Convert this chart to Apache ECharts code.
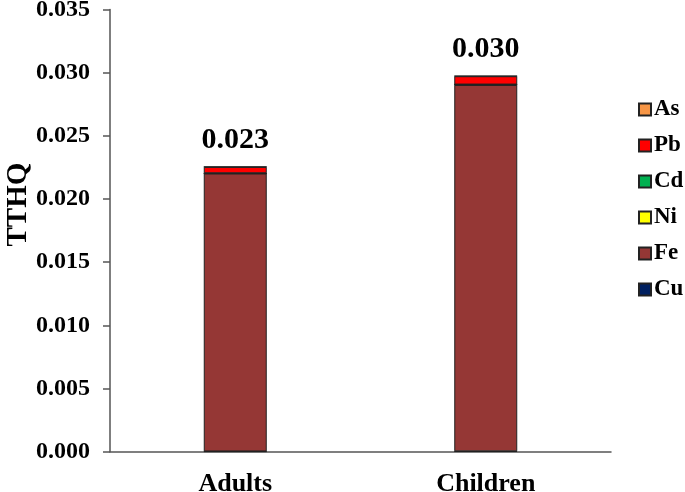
<!DOCTYPE html>
<html>
<head>
<meta charset="utf-8">
<script src="https://cdn.jsdelivr.net/npm/echarts@6/dist/echarts.min.js"></script>
<style>html,body{margin:0;padding:0;background:#fff}#c{width:685px;height:492px}</style>
</head>
<body>
<div id="c"></div>
<script>
var categories = ['Adults', 'Children'];
var Cu = [0.00002, 0.00003];
var Fe = [0.0220, 0.0290];
var Ni = [0.00001, 0.00002];
var Cd = [0.00001, 0.00001];
var Pb = [0.00050, 0.00066];
var As = [0.00001, 0.00002];
var totalLabels = ['0.023', '0.030'];
var yTicks = [0, 0.005, 0.010, 0.015, 0.020, 0.025, 0.030, 0.035];

var font = '"Liberation Serif", "Times New Roman", serif';
var stackOrder = [
  {name: 'Cu', data: Cu, color: '#002060'},
  {name: 'Fe', data: Fe, color: '#953735'},
  {name: 'Ni', data: Ni, color: '#FFFF00'},
  {name: 'Cd', data: Cd, color: '#00B050'},
  {name: 'Pb', data: Pb, color: '#FF0000'},
  {name: 'As', data: As, color: '#F79646'}
];
var series = stackOrder.map(function (s, i) {
  var o = {
    name: s.name, type: 'bar', stack: 'total', data: s.data, barWidth: 63,
    itemStyle: {color: s.color, borderColor: '#222', borderWidth: 1},
    emphasis: {disabled: true}
  };
  if (i === stackOrder.length - 1) {
    o.label = {
      show: true, position: 'top', distance: 11,
      formatter: function (p) { return totalLabels[p.dataIndex]; },
      fontFamily: font, fontWeight: 'bold', fontSize: 30, color: '#000'
    };
  }
  return o;
});

var chart = echarts.init(document.getElementById('c'), null, {renderer: 'canvas'});
chart.setOption({
  animation: false,
  backgroundColor: '#fff',
  grid: {left: 110, right: 74, top: 9.5, bottom: 40.3, containLabel: false, outerBoundsMode: 'none'},
  legend: {
    orient: 'vertical', left: 633, top: 93,
    data: ['As', 'Pb', 'Cd', 'Ni', 'Fe', 'Cu'],
    itemWidth: 12, itemHeight: 12, itemGap: 13, icon: 'rect',
    textStyle: {fontFamily: font, fontWeight: 'bold', fontSize: 23, color: '#000', padding: [0, 0, 0, -2]}
  },
  xAxis: {
    type: 'category', data: categories,
    axisLine: {lineStyle: {color: '#555', width: 1.5}},
    axisTick: {show: false},
    axisLabel: {fontFamily: font, fontWeight: 'bold', fontSize: 26, color: '#000', margin: 20}
  },
  yAxis: {
    type: 'value', min: 0, max: 0.035, interval: 0.005,
    name: 'TTHQ', nameLocation: 'middle', nameGap: 77, nameRotate: 90, nameMoveOverlap: false,
    nameTextStyle: {fontFamily: font, fontWeight: 'bold', fontSize: 29, color: '#000', padding: [0, 0, 0, 52]},
    axisLine: {show: true, lineStyle: {color: '#555', width: 1.5}},
    axisTick: {show: true, length: 7, lineStyle: {color: '#555', width: 1.5}},
    splitLine: {show: false},
    axisLabel: {
      fontFamily: font, fontWeight: 'bold', fontSize: 24, color: '#000', margin: 20,
      formatter: function (v) { return v.toFixed(3); }
    }
  },
  series: series
});
</script>
</body>
</html>
